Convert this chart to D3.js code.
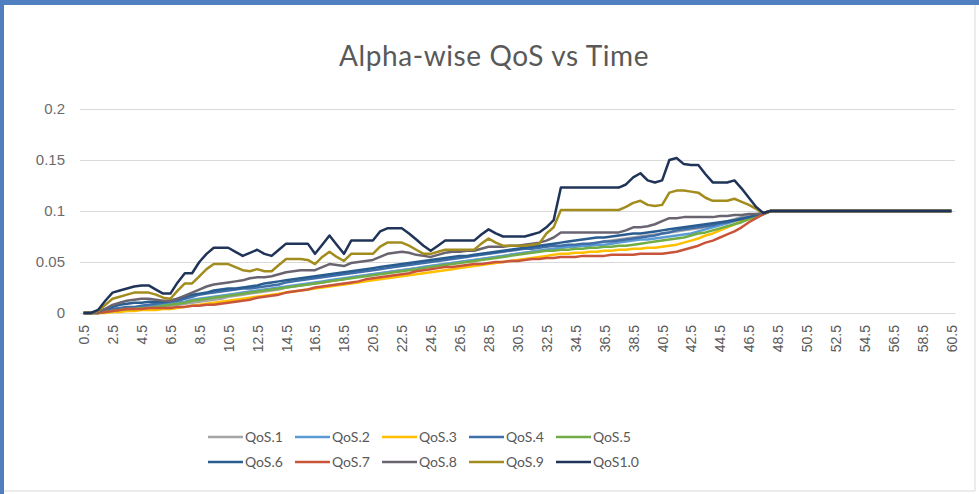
<!DOCTYPE html>
<html>
<head>
<meta charset="utf-8">
<script src="https://cdn.jsdelivr.net/npm/d3@7"></script>
<style>
  body { margin: 0; background: #fff; }
  svg { display: block; font-family: Lato, "Open Sans", sans-serif; }
</style>
</head>
<body>
<script>
// time categories (x axis)
var times = [
  0.5,1,1.5,2,2.5,3,3.5,4,4.5,5,5.5,6,6.5,7,7.5,8,8.5,9,9.5,10,
  10.5,11,11.5,12,12.5,13,13.5,14,14.5,15,15.5,16,16.5,17,17.5,18,18.5,19,19.5,20,
  20.5,21,21.5,22,22.5,23,23.5,24,24.5,25,25.5,26,26.5,27,27.5,28,28.5,29,29.5,30,
  30.5,31,31.5,32,32.5,33,33.5,34,34.5,35,35.5,36,36.5,37,37.5,38,38.5,39,39.5,40,
  40.5,41,41.5,42,42.5,43,43.5,44,44.5,45,45.5,46,46.5,47,47.5,48,48.5,49,49.5,50,
  50.5,51,51.5,52,52.5,53,53.5,54,54.5,55,55.5,56,56.5,57,57.5,58,58.5,59,59.5,60,
  60.5
];
var tickLabels = ["0.5","2.5","4.5","6.5","8.5","10.5","12.5","14.5","16.5","18.5","20.5",
  "22.5","24.5","26.5","28.5","30.5","32.5","34.5","36.5","38.5","40.5","42.5","44.5",
  "46.5","48.5","50.5","52.5","54.5","56.5","58.5","60.5"];
var yTicks = [0, 0.05, 0.1, 0.15, 0.2];

var qos01 = [
  0,0,0,0.001,0.002,0.002,0.003,0.003,0.004,0.004,
  0.005,0.006,0.007,0.008,0.009,0.01,0.011,0.012,0.013,0.014,
  0.016,0.017,0.018,0.019,0.02,0.021,0.022,0.023,0.025,0.026,
  0.027,0.028,0.029,0.03,0.031,0.032,0.033,0.035,0.036,0.037,
  0.038,0.039,0.04,0.041,0.042,0.043,0.044,0.045,0.046,0.047,
  0.048,0.049,0.05,0.051,0.052,0.053,0.054,0.055,0.056,0.057,
  0.058,0.059,0.06,0.061,0.062,0.063,0.064,0.065,0.066,0.067,
  0.068,0.069,0.07,0.071,0.072,0.073,0.074,0.075,0.076,0.077,
  0.078,0.079,0.08,0.081,0.082,0.083,0.084,0.086,0.088,0.09,
  0.092,0.094,0.095,0.096,0.098,0.1,0.1,0.1,0.1,0.1,
  0.1,0.1,0.1,0.1,0.1,0.1,0.1,0.1,0.1,0.1,
  0.1,0.1,0.1,0.1,0.1,0.1,0.1,0.1,0.1,0.1,
  0.1
];
var qos02 = [
  0,0,0,0.001,0.003,0.004,0.005,0.005,0.006,0.006,
  0.007,0.008,0.009,0.01,0.011,0.013,0.014,0.015,0.016,0.017,
  0.018,0.019,0.02,0.021,0.022,0.023,0.024,0.025,0.026,0.027,
  0.028,0.029,0.03,0.031,0.032,0.033,0.034,0.035,0.036,0.037,
  0.038,0.039,0.04,0.041,0.042,0.043,0.044,0.045,0.046,0.047,
  0.048,0.049,0.05,0.051,0.052,0.053,0.054,0.055,0.056,0.057,
  0.058,0.059,0.06,0.061,0.062,0.063,0.064,0.065,0.065,0.066,
  0.066,0.067,0.067,0.068,0.069,0.07,0.071,0.072,0.072,0.073,
  0.074,0.075,0.076,0.077,0.078,0.08,0.082,0.084,0.086,0.088,
  0.09,0.092,0.094,0.095,0.097,0.1,0.1,0.1,0.1,0.1,
  0.1,0.1,0.1,0.1,0.1,0.1,0.1,0.1,0.1,0.1,
  0.1,0.1,0.1,0.1,0.1,0.1,0.1,0.1,0.1,0.1,
  0.1
];
var qos03 = [
  0,0,0,0,0.001,0.001,0.002,0.002,0.003,0.003,
  0.003,0.004,0.004,0.005,0.006,0.007,0.008,0.009,0.01,0.011,
  0.012,0.013,0.014,0.015,0.016,0.017,0.018,0.019,0.02,0.021,
  0.022,0.023,0.024,0.025,0.026,0.027,0.028,0.029,0.03,0.031,
  0.032,0.033,0.034,0.035,0.036,0.037,0.038,0.039,0.04,0.041,
  0.042,0.043,0.044,0.045,0.046,0.047,0.048,0.049,0.05,0.051,
  0.052,0.053,0.054,0.055,0.056,0.057,0.058,0.058,0.059,0.059,
  0.06,0.06,0.061,0.061,0.062,0.062,0.063,0.063,0.064,0.064,
  0.065,0.066,0.067,0.069,0.071,0.073,0.076,0.078,0.081,0.084,
  0.087,0.09,0.092,0.094,0.097,0.1,0.1,0.1,0.1,0.1,
  0.1,0.1,0.1,0.1,0.1,0.1,0.1,0.1,0.1,0.1,
  0.1,0.1,0.1,0.1,0.1,0.1,0.1,0.1,0.1,0.1,
  0.1
];
var qos04 = [
  0,0,0,0.002,0.004,0.005,0.006,0.006,0.007,0.008,
  0.009,0.01,0.011,0.012,0.014,0.016,0.018,0.019,0.02,0.021,
  0.022,0.023,0.024,0.024,0.025,0.026,0.027,0.028,0.03,0.031,
  0.032,0.033,0.034,0.035,0.036,0.037,0.038,0.039,0.04,0.041,
  0.042,0.043,0.044,0.045,0.046,0.047,0.048,0.049,0.05,0.051,
  0.052,0.053,0.054,0.055,0.056,0.057,0.058,0.059,0.06,0.061,
  0.062,0.063,0.063,0.064,0.065,0.066,0.066,0.067,0.067,0.068,
  0.068,0.069,0.07,0.07,0.071,0.072,0.073,0.074,0.075,0.076,
  0.078,0.079,0.081,0.082,0.083,0.084,0.085,0.086,0.088,0.089,
  0.091,0.093,0.094,0.095,0.097,0.1,0.1,0.1,0.1,0.1,
  0.1,0.1,0.1,0.1,0.1,0.1,0.1,0.1,0.1,0.1,
  0.1,0.1,0.1,0.1,0.1,0.1,0.1,0.1,0.1,0.1,
  0.1
];
var qos05 = [
  0,0,0,0.001,0.002,0.003,0.004,0.004,0.005,0.005,
  0.006,0.007,0.008,0.009,0.01,0.012,0.013,0.014,0.015,0.016,
  0.017,0.018,0.019,0.02,0.021,0.022,0.023,0.024,0.025,0.026,
  0.027,0.028,0.029,0.03,0.031,0.032,0.033,0.034,0.035,0.036,
  0.037,0.038,0.039,0.04,0.041,0.042,0.043,0.044,0.045,0.046,
  0.047,0.048,0.049,0.05,0.051,0.052,0.053,0.054,0.055,0.056,
  0.057,0.058,0.059,0.06,0.061,0.061,0.062,0.062,0.063,0.063,
  0.064,0.064,0.065,0.065,0.066,0.066,0.067,0.068,0.069,0.07,
  0.071,0.072,0.073,0.074,0.076,0.078,0.079,0.081,0.083,0.085,
  0.087,0.089,0.092,0.094,0.097,0.1,0.1,0.1,0.1,0.1,
  0.1,0.1,0.1,0.1,0.1,0.1,0.1,0.1,0.1,0.1,
  0.1,0.1,0.1,0.1,0.1,0.1,0.1,0.1,0.1,0.1,
  0.1
];
var qos06 = [
  0,0,0.001,0.004,0.006,0.008,0.009,0.01,0.01,0.011,
  0.011,0.011,0.012,0.014,0.016,0.018,0.019,0.02,0.022,0.023,
  0.024,0.024,0.025,0.026,0.027,0.029,0.03,0.031,0.032,0.033,
  0.034,0.035,0.036,0.037,0.038,0.039,0.04,0.041,0.042,0.043,
  0.044,0.045,0.046,0.047,0.048,0.049,0.05,0.051,0.052,0.053,
  0.054,0.055,0.056,0.056,0.057,0.058,0.059,0.06,0.061,0.062,
  0.063,0.064,0.065,0.066,0.067,0.068,0.069,0.07,0.071,0.072,
  0.073,0.074,0.074,0.075,0.076,0.077,0.078,0.078,0.079,0.08,
  0.081,0.082,0.083,0.084,0.085,0.086,0.087,0.088,0.089,0.09,
  0.091,0.092,0.094,0.096,0.098,0.1,0.1,0.1,0.1,0.1,
  0.1,0.1,0.1,0.1,0.1,0.1,0.1,0.1,0.1,0.1,
  0.1,0.1,0.1,0.1,0.1,0.1,0.1,0.1,0.1,0.1,
  0.1
];
var qos07 = [
  0,0,0,0.001,0.002,0.003,0.004,0.004,0.004,0.005,
  0.005,0.005,0.005,0.006,0.006,0.007,0.007,0.008,0.008,0.009,
  0.01,0.011,0.012,0.013,0.015,0.016,0.017,0.018,0.02,0.021,
  0.022,0.023,0.025,0.026,0.027,0.028,0.029,0.03,0.031,0.033,
  0.034,0.035,0.036,0.037,0.038,0.039,0.041,0.042,0.043,0.044,
  0.045,0.045,0.046,0.047,0.048,0.048,0.049,0.05,0.05,0.051,
  0.051,0.052,0.053,0.053,0.054,0.054,0.055,0.055,0.055,0.056,
  0.056,0.056,0.056,0.057,0.057,0.057,0.057,0.058,0.058,0.058,
  0.058,0.059,0.06,0.062,0.064,0.066,0.069,0.071,0.074,0.077,
  0.08,0.084,0.089,0.093,0.097,0.1,0.1,0.1,0.1,0.1,
  0.1,0.1,0.1,0.1,0.1,0.1,0.1,0.1,0.1,0.1,
  0.1,0.1,0.1,0.1,0.1,0.1,0.1,0.1,0.1,0.1,
  0.1
];
var qos08 = [
  0,0,0.001,0.004,0.008,0.01,0.012,0.013,0.014,0.014,
  0.013,0.012,0.012,0.014,0.017,0.02,0.023,0.026,0.028,0.029,
  0.03,0.031,0.032,0.034,0.035,0.035,0.036,0.038,0.04,0.041,
  0.042,0.042,0.042,0.045,0.048,0.047,0.046,0.049,0.05,0.051,
  0.052,0.055,0.058,0.059,0.06,0.059,0.057,0.056,0.055,0.057,
  0.059,0.06,0.06,0.061,0.061,0.063,0.065,0.065,0.065,0.066,
  0.066,0.067,0.068,0.069,0.071,0.074,0.079,0.079,0.079,0.079,
  0.079,0.079,0.079,0.079,0.079,0.081,0.084,0.084,0.085,0.087,
  0.09,0.093,0.093,0.094,0.094,0.094,0.094,0.094,0.095,0.095,
  0.096,0.096,0.097,0.097,0.098,0.1,0.1,0.1,0.1,0.1,
  0.1,0.1,0.1,0.1,0.1,0.1,0.1,0.1,0.1,0.1,
  0.1,0.1,0.1,0.1,0.1,0.1,0.1,0.1,0.1,0.1,
  0.1
];
var qos09 = [
  0,0,0.002,0.008,0.014,0.016,0.018,0.02,0.02,0.02,
  0.018,0.015,0.014,0.022,0.029,0.029,0.036,0.043,0.048,0.048,
  0.048,0.045,0.042,0.041,0.043,0.041,0.041,0.047,0.053,0.053,
  0.053,0.052,0.048,0.055,0.06,0.055,0.051,0.058,0.058,0.058,
  0.058,0.065,0.069,0.069,0.069,0.066,0.062,0.058,0.058,0.06,
  0.062,0.062,0.062,0.062,0.062,0.068,0.073,0.069,0.066,0.066,
  0.066,0.066,0.067,0.068,0.078,0.084,0.101,0.101,0.101,0.101,
  0.101,0.101,0.101,0.101,0.101,0.104,0.108,0.11,0.106,0.105,
  0.106,0.118,0.12,0.12,0.119,0.118,0.113,0.11,0.11,0.11,
  0.112,0.109,0.106,0.102,0.098,0.1,0.1,0.1,0.1,0.1,
  0.1,0.1,0.1,0.1,0.1,0.1,0.1,0.1,0.1,0.1,
  0.1,0.1,0.1,0.1,0.1,0.1,0.1,0.1,0.1,0.1,
  0.1
];
var qos10 = [
  0,0,0.003,0.012,0.02,0.022,0.024,0.026,0.027,0.027,
  0.023,0.019,0.019,0.03,0.039,0.039,0.05,0.058,0.064,0.064,
  0.064,0.06,0.056,0.059,0.062,0.058,0.056,0.062,0.068,0.068,
  0.068,0.068,0.058,0.067,0.076,0.067,0.058,0.071,0.071,0.071,
  0.071,0.08,0.083,0.083,0.083,0.078,0.072,0.066,0.061,0.066,
  0.071,0.071,0.071,0.071,0.071,0.077,0.082,0.078,0.075,0.075,
  0.075,0.075,0.077,0.079,0.084,0.091,0.123,0.123,0.123,0.123,
  0.123,0.123,0.123,0.123,0.123,0.126,0.133,0.137,0.13,0.128,
  0.13,0.15,0.152,0.146,0.145,0.145,0.136,0.128,0.128,0.128,
  0.13,0.122,0.113,0.104,0.098,0.1,0.1,0.1,0.1,0.1,
  0.1,0.1,0.1,0.1,0.1,0.1,0.1,0.1,0.1,0.1,
  0.1,0.1,0.1,0.1,0.1,0.1,0.1,0.1,0.1,0.1,
  0.1
];

var seriesNames = ["QoS.1","QoS.2","QoS.3","QoS.4","QoS.5","QoS.6","QoS.7","QoS.8","QoS.9","QoS1.0"];
var seriesValues = [qos01, qos02, qos03, qos04, qos05, qos06, qos07, qos08, qos09, qos10];
var colors = ["#a5a5a5","#5b9bd5","#ffc000","#3f6ea8","#70ad47","#2a5d8f","#c8553a","#6a6470","#a38c1e","#1f3458"];

var width = 979,
    height = 494;
var margin = {top: 109, right: 24, bottom: 181, left: 80};

var svg = d3.select("body").append("svg")
            .attr("width", width)
            .attr("height", height);

// frame of the screenshot
svg.append("rect").attr("x", 0).attr("y", 0).attr("width", width).attr("height", height).attr("fill", "#fff");
svg.append("line").attr("x1", 975).attr("x2", 975).attr("y1", 0).attr("y2", 491).attr("stroke", "#d9d9d9");
svg.append("line").attr("x1", 0).attr("x2", 975).attr("y1", 491).attr("y2", 491).attr("stroke", "#d9d9d9");
svg.append("line").attr("x1", 0).attr("x2", width).attr("y1", 2.5).attr("y2", 2.5).attr("stroke", "#4f7fbf").attr("stroke-width", 5);
svg.append("line").attr("x1", 2).attr("x2", 2).attr("y1", 0).attr("y2", height).attr("stroke", "#4f7fbf").attr("stroke-width", 4);

var x = d3.scalePoint()
          .domain(times)
          .range([margin.left, width - margin.right])
          .padding(0.5);
var y = d3.scaleLinear()
          .domain([0, 0.2])
          .range([height - margin.bottom, margin.top]);

// title
svg.append("text")
   .attr("x", 494).attr("y", 66)
   .attr("text-anchor", "middle")
   .style("font-size", "28px")
   .style("letter-spacing", "0.6px")
   .style("fill", "#595959")
   .text("Alpha-wise QoS vs Time");

// gridlines + y labels
var yAxis = d3.axisLeft(y).tickValues(yTicks).tickSize(-(width - margin.right - margin.left)).tickPadding(15)
              .tickFormat(function(d) { return String(+d.toFixed(2)); });
var gy = svg.append("g").attr("transform", "translate(" + margin.left + ",0)").call(yAxis);
gy.select(".domain").remove();
gy.selectAll(".tick line").attr("stroke", "#d9d9d9");
gy.selectAll(".tick text").style("font-size", "15px").style("fill", "#6b6b6b");

// x axis
var xAxis = d3.axisBottom(x)
              .tickValues(times.filter(function(t) { return tickLabels.indexOf(String(t)) >= 0; }))
              .tickSize(0);
var gx = svg.append("g").attr("transform", "translate(0," + y(0) + ")").call(xAxis);
gx.select(".domain").attr("stroke", "#d9d9d9");
gx.selectAll(".tick text")
  .style("font-size", "14px").style("fill", "#595959")
  .attr("text-anchor", "end")
  .attr("transform", "rotate(-90)")
  .attr("x", -12).attr("y", 0).attr("dy", "0.35em");

// lines
var line = d3.line()
             .x(function(d, i) { return x(times[i]); })
             .y(function(d) { return y(d); });
svg.append("g").selectAll("path")
   .data(seriesValues)
   .enter()
   .append("path")
   .attr("d", line)
   .attr("fill", "none")
   .attr("stroke", function(d, i) { return colors[i]; })
   .attr("stroke-width", 2.5)
   .attr("stroke-linejoin", "round");

// legend
var legend = svg.append("g").selectAll("g")
   .data(seriesNames)
   .enter()
   .append("g")
   .attr("transform", function(d, i) {
      return "translate(" + (208 + (i % 5) * 87) + "," + (437 + Math.floor(i / 5) * 25) + ")";
   });
legend.append("line")
   .attr("x1", 0).attr("x2", 35)
   .attr("stroke", function(d, i) { return colors[i]; })
   .attr("stroke-width", 2.5);
legend.append("text")
   .attr("x", 37).attr("dy", "0.35em")
   .style("font-size", "14px").style("fill", "#595959")
   .text(function(d) { return d; });
</script>
</body>
</html>
